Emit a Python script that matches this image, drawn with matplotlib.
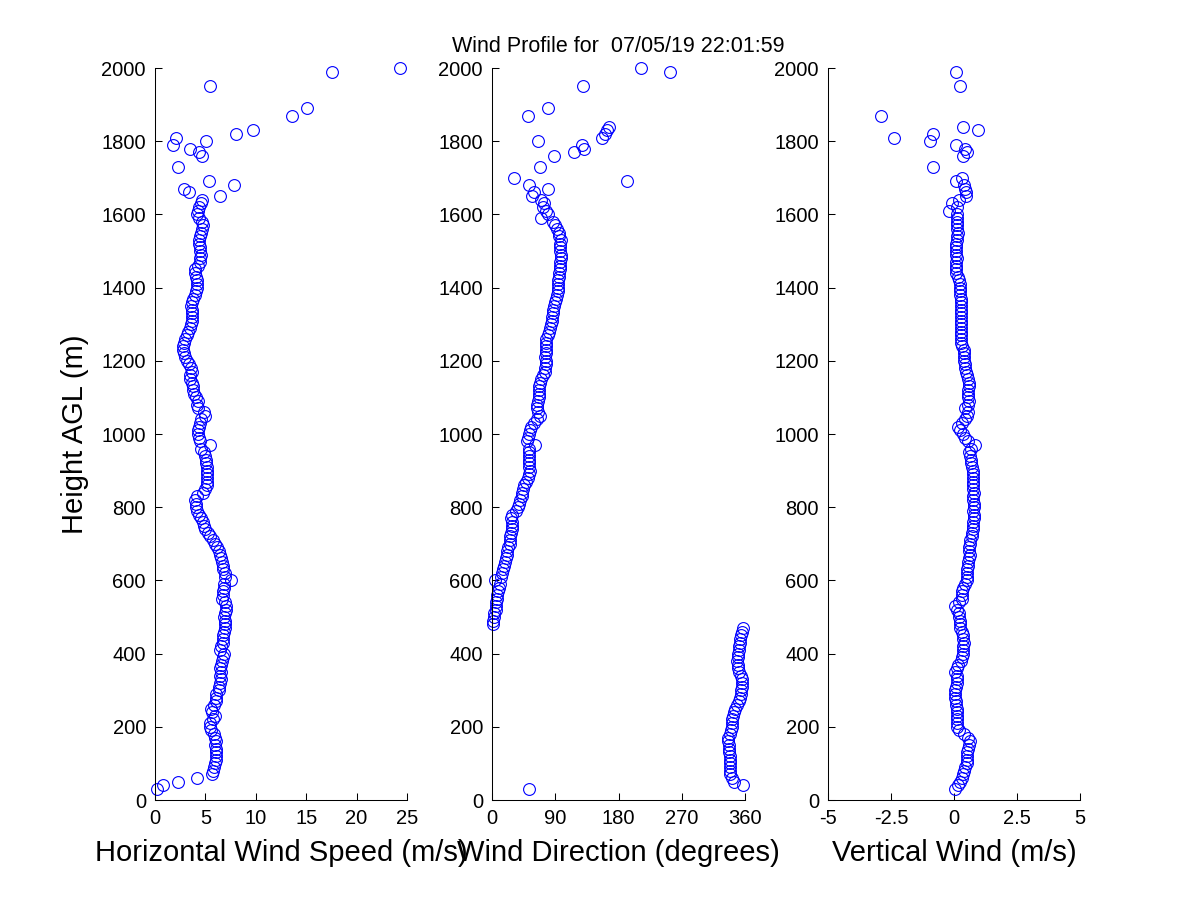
import matplotlib
matplotlib.use("Agg")
import matplotlib.pyplot as plt

plt.rcParams['font.family'] = ['Liberation Sans', 'DejaVu Sans']

# ---------------- data ----------------
title_text = "Wind Profile for  07/05/19 22:01:59"

# dense range gates (m AGL)
gate_heights = [30, 40, 50, 60, 70, 80, 90, 100, 110, 120, 130, 140, 150, 160, 170, 180, 190, 200,
                210, 220, 230, 240, 250, 260, 270, 280, 290, 300, 310, 320, 330, 340, 350, 360, 370,
                380, 390, 400, 410, 420, 430, 440, 450, 460, 470, 480, 490, 500, 510, 520, 530, 540,
                550, 560, 570, 580, 590, 600, 610, 620, 630, 640, 650, 660, 670, 680, 690, 700, 710,
                720, 730, 740, 750, 760, 770, 780, 790, 800, 810, 820, 830, 840, 850, 860, 870, 880,
                890, 900, 910, 920, 930, 940, 950, 960, 970, 980, 990, 1000, 1010, 1020, 1030, 1040,
                1050, 1060, 1070, 1080, 1090, 1100, 1110, 1120, 1130, 1140, 1150, 1160, 1170, 1180,
                1190, 1200, 1210, 1220, 1230, 1240, 1250, 1260, 1270, 1280, 1290, 1300, 1310, 1320,
                1330, 1340, 1350, 1360, 1370, 1380, 1390, 1400, 1410, 1420, 1430, 1440, 1450, 1460,
                1470, 1480, 1490, 1500, 1510, 1520, 1530, 1540, 1550, 1560, 1570, 1580, 1590, 1600,
                1610, 1620, 1630, 1640]

speed_low = [0.2, 0.8, 2.3, 4.2, 5.7, 5.8, 5.9, 6.0, 6.1, 6.1, 6.1, 6.1, 6.0, 6.1, 6.0, 5.9, 5.6, 5.5,
             5.5, 5.8, 6.0, 5.7, 5.6, 5.9, 6.1, 6.1, 6.1, 6.3, 6.3, 6.4, 6.5, 6.4, 6.5, 6.4, 6.5,
             6.6, 6.7, 6.8, 6.4, 6.5, 6.7, 6.7, 6.7, 6.8, 6.9, 6.9, 6.9, 6.8, 6.9, 7.0, 7.0, 6.9,
             6.6, 6.7, 6.7, 6.8, 6.8, 7.5, 6.9, 6.9, 6.7, 6.7, 6.6, 6.5, 6.4, 6.3, 6.2, 6.0, 5.8,
             5.5, 5.3, 5.0, 4.9, 4.8, 4.6, 4.4, 4.2, 4.1, 4.1, 4.0, 4.2, 4.8, 5.0, 5.2, 5.2, 5.2,
             5.2, 5.2, 5.2, 5.1, 5.1, 5.0, 4.9, 4.6, 5.5, 4.5, 4.4, 4.3, 4.3, 4.4, 4.5, 4.6,
             5.0, 4.9, 4.3, 4.2, 4.3, 4.1, 3.9, 3.8, 3.8, 3.7, 3.5, 3.5, 3.7, 3.6,
             3.4, 3.2, 3.0, 2.9, 2.8, 2.8, 2.9, 3.0, 3.2, 3.3, 3.5, 3.6, 3.65, 3.7,
             3.65, 3.7, 3.6, 3.7, 3.8, 4.0, 4.1, 4.2, 4.2, 4.2, 4.1, 4.0, 4.0, 4.3,
             4.5, 4.5, 4.6, 4.5, 4.5, 4.4, 4.4, 4.5, 4.6, 4.7, 4.8, 4.7, 4.4, 4.2,
             4.3, 4.4, 4.6, 4.7]
speed_up_heights = [1650, 1660, 1670, 1680, 1690, 1730, 1760, 1770, 1780, 1790, 1800, 1810, 1820,
                    1830, 1870, 1890, 1950, 1990, 2000]
speed_up = [6.45, 3.4, 2.85, 7.8, 5.4, 2.3, 4.7, 4.4, 3.5, 1.8, 5.1, 2.1, 8.07,
            9.75, 13.6, 15.1, 5.5, 17.6, 24.3]

dir_low = [52, 357, 344, 341, 339, 338.5, 338.5, 339, 338, 338, 337.5, 337, 337, 336.5, 336, 338, 340, 341,
           341, 342, 343, 344, 346, 348, 351, 353, 354, 355, 356, 356, 355.5, 354, 352, 350, 349.5,
           349, 349.5, 350, 351, 352, 353, 353.5, 354.5, 355.5, 357, 1, 1.5, 2.5, 3.5, 5, 5.5, 6,
           7, 7.5, 9, 10, 11, 4.5, 12.5, 14, 16, 17, 19, 20, 21, 22, 23, 25, 25.5,
           26, 27, 28, 28.5, 28, 27, 29, 34, 37.5, 39, 40, 42, 43, 44.5, 46, 49, 51,
           53, 53.5, 53, 52.5, 52, 52, 53, 52, 61, 50, 51, 53, 54, 55, 60, 63.5,
           69, 66, 63.5, 64, 66, 67, 67.5, 67, 67.5, 68, 70, 73, 75, 76,
           76.5, 76.5, 76, 76.5, 77, 76.5, 77, 77.5, 79, 81.6, 82, 84, 85, 86,
           87, 87.5, 88, 89.6, 91, 93, 93.5, 94, 94, 94.5, 95, 96, 97, 97,
           97, 97.5, 97.5, 97, 97, 97, 97.5, 96, 95, 93, 90, 87, 70, 80,
           77, 72, 74.5, 69.7]
dir_up_heights = [1650, 1660, 1670, 1680, 1690, 1700, 1730, 1760, 1770, 1780, 1790, 1800, 1810,
                  1820, 1830, 1840, 1870, 1890, 1950, 1990, 2000]
dir_up = [57, 60, 80, 53, 192.6, 31.8, 68.8, 88.7, 117, 131, 128.5, 66, 157,
          161, 163, 167, 51.7, 80, 130, 253.7, 212.5]

vert_low = [0.04, 0.17, 0.25, 0.33, 0.37, 0.4, 0.45, 0.5, 0.5, 0.5, 0.52, 0.55, 0.6, 0.62, 0.55, 0.4, 0.2, 0.13,
            0.1, 0.12, 0.1, 0.1, 0.12, 0.08, 0.06, 0.04, 0.03, 0.05, 0.06, 0.1, 0.12, 0.1, 0.05, 0.1, 0.15,
            0.28, 0.32, 0.35, 0.37, 0.37, 0.38, 0.36, 0.35, 0.3, 0.24, 0.22, 0.24, 0.2, 0.18, 0.12, 0.03, 0.2,
            0.3, 0.32, 0.3, 0.35, 0.42, 0.5, 0.5, 0.52, 0.5, 0.55, 0.55, 0.6, 0.62, 0.6, 0.6, 0.62, 0.65,
            0.7, 0.72, 0.75, 0.77, 0.75, 0.78, 0.8, 0.77, 0.78, 0.8, 0.77, 0.76, 0.78, 0.77, 0.76, 0.75, 0.77,
            0.76, 0.75, 0.7, 0.68, 0.66, 0.62, 0.6, 0.66, 0.83, 0.57, 0.45, 0.35, 0.25, 0.16, 0.3, 0.42,
            0.5, 0.55, 0.45, 0.57, 0.58, 0.55, 0.57, 0.57, 0.6, 0.58, 0.55, 0.52, 0.48, 0.45,
            0.42, 0.4, 0.4, 0.38, 0.38, 0.3, 0.27, 0.26, 0.26, 0.27, 0.28, 0.28, 0.28, 0.29,
            0.28, 0.28, 0.27, 0.27, 0.28, 0.25, 0.24, 0.24, 0.22, 0.2, 0.15, 0.08, 0.07, 0.08,
            0.08, 0.1, 0.09, 0.08, 0.07, 0.07, 0.1, 0.13, 0.14, 0.12, 0.12, 0.1, 0.1, 0.1,
            -0.19, 0.13, -0.09, 0.2]
vert_up_heights = [1650, 1660, 1670, 1680, 1690, 1700, 1730, 1760, 1770, 1780, 1790, 1800, 1810,
                   1820, 1830, 1840, 1870, 1950, 1990]
vert_up = [0.48, 0.46, 0.45, 0.4, 0.08, 0.3, -0.82, 0.37, 0.5, 0.44, 0.07, -0.94, -2.37,
           -0.82, 0.96, 0.37, -2.88, 0.25, 0.09]

speed_ticks = [0, 5, 10, 15, 20, 25]
dir_ticks = [0, 90, 180, 270, 360]
vert_ticks = [-5, -2.5, 0, 2.5, 5]
vert_ticklabels = ["-5", "-2.5", "0", "2.5", "5"]
height_ticks = [0, 200, 400, 600, 800, 1000, 1200, 1400, 1600, 1800, 2000]

# ---------------- figure ----------------
fig = plt.figure(figsize=(12, 9), dpi=100)
fig.patch.set_facecolor('white')

bottom = 100 / 900
height = 732 / 900
positions = [(155 / 1200, bottom, 252 / 1200, height),
             (492 / 1200, bottom, 253 / 1200, height),
             (828 / 1200, bottom, 252 / 1200, height)]

panels = [
    (gate_heights + speed_up_heights, speed_low + speed_up, (0, 25), speed_ticks, None,
     "Horizontal Wind Speed (m/s)"),
    (gate_heights + dir_up_heights, dir_low + dir_up, (0, 360), dir_ticks, None,
     "Wind Direction (degrees)"),
    (gate_heights + vert_up_heights, vert_low + vert_up, (-5, 5), vert_ticks, vert_ticklabels,
     "Vertical Wind (m/s)"),
]

axes = []
for pos, (hs, vals, xlim, xt, xtl, xlabel) in zip(positions, panels):
    ax = fig.add_axes(pos)
    ax.plot(vals, hs, linestyle='none', marker='o', markersize=8.5,
            markerfacecolor='none', markeredgecolor='#0000FF', markeredgewidth=0.8,
            clip_on=False)
    ax.set_xlim(*xlim)
    ax.set_ylim(0, 2000)
    ax.set_xticks(xt)
    if xtl is not None:
        ax.set_xticklabels(xtl)
    ax.set_yticks(height_ticks)
    for s in ('top', 'right'):
        ax.spines[s].set_visible(False)
    for s in ('left', 'bottom'):
        ax.spines[s].set_linewidth(0.75)
        ax.spines[s].set_color('black')
    ax.tick_params(direction='in', length=5.2, width=0.75, labelsize=14.5, pad=6.5,
                   colors='black')
    ax.set_xlabel(xlabel, fontsize=21, labelpad=8)
    axes.append(ax)

axes[0].set_ylabel("Height AGL (m)", fontsize=21, labelpad=9)
axes[1].set_title(title_text, fontsize=15.5, pad=11.5)

fig.savefig("out.png", dpi=100, facecolor='white')
